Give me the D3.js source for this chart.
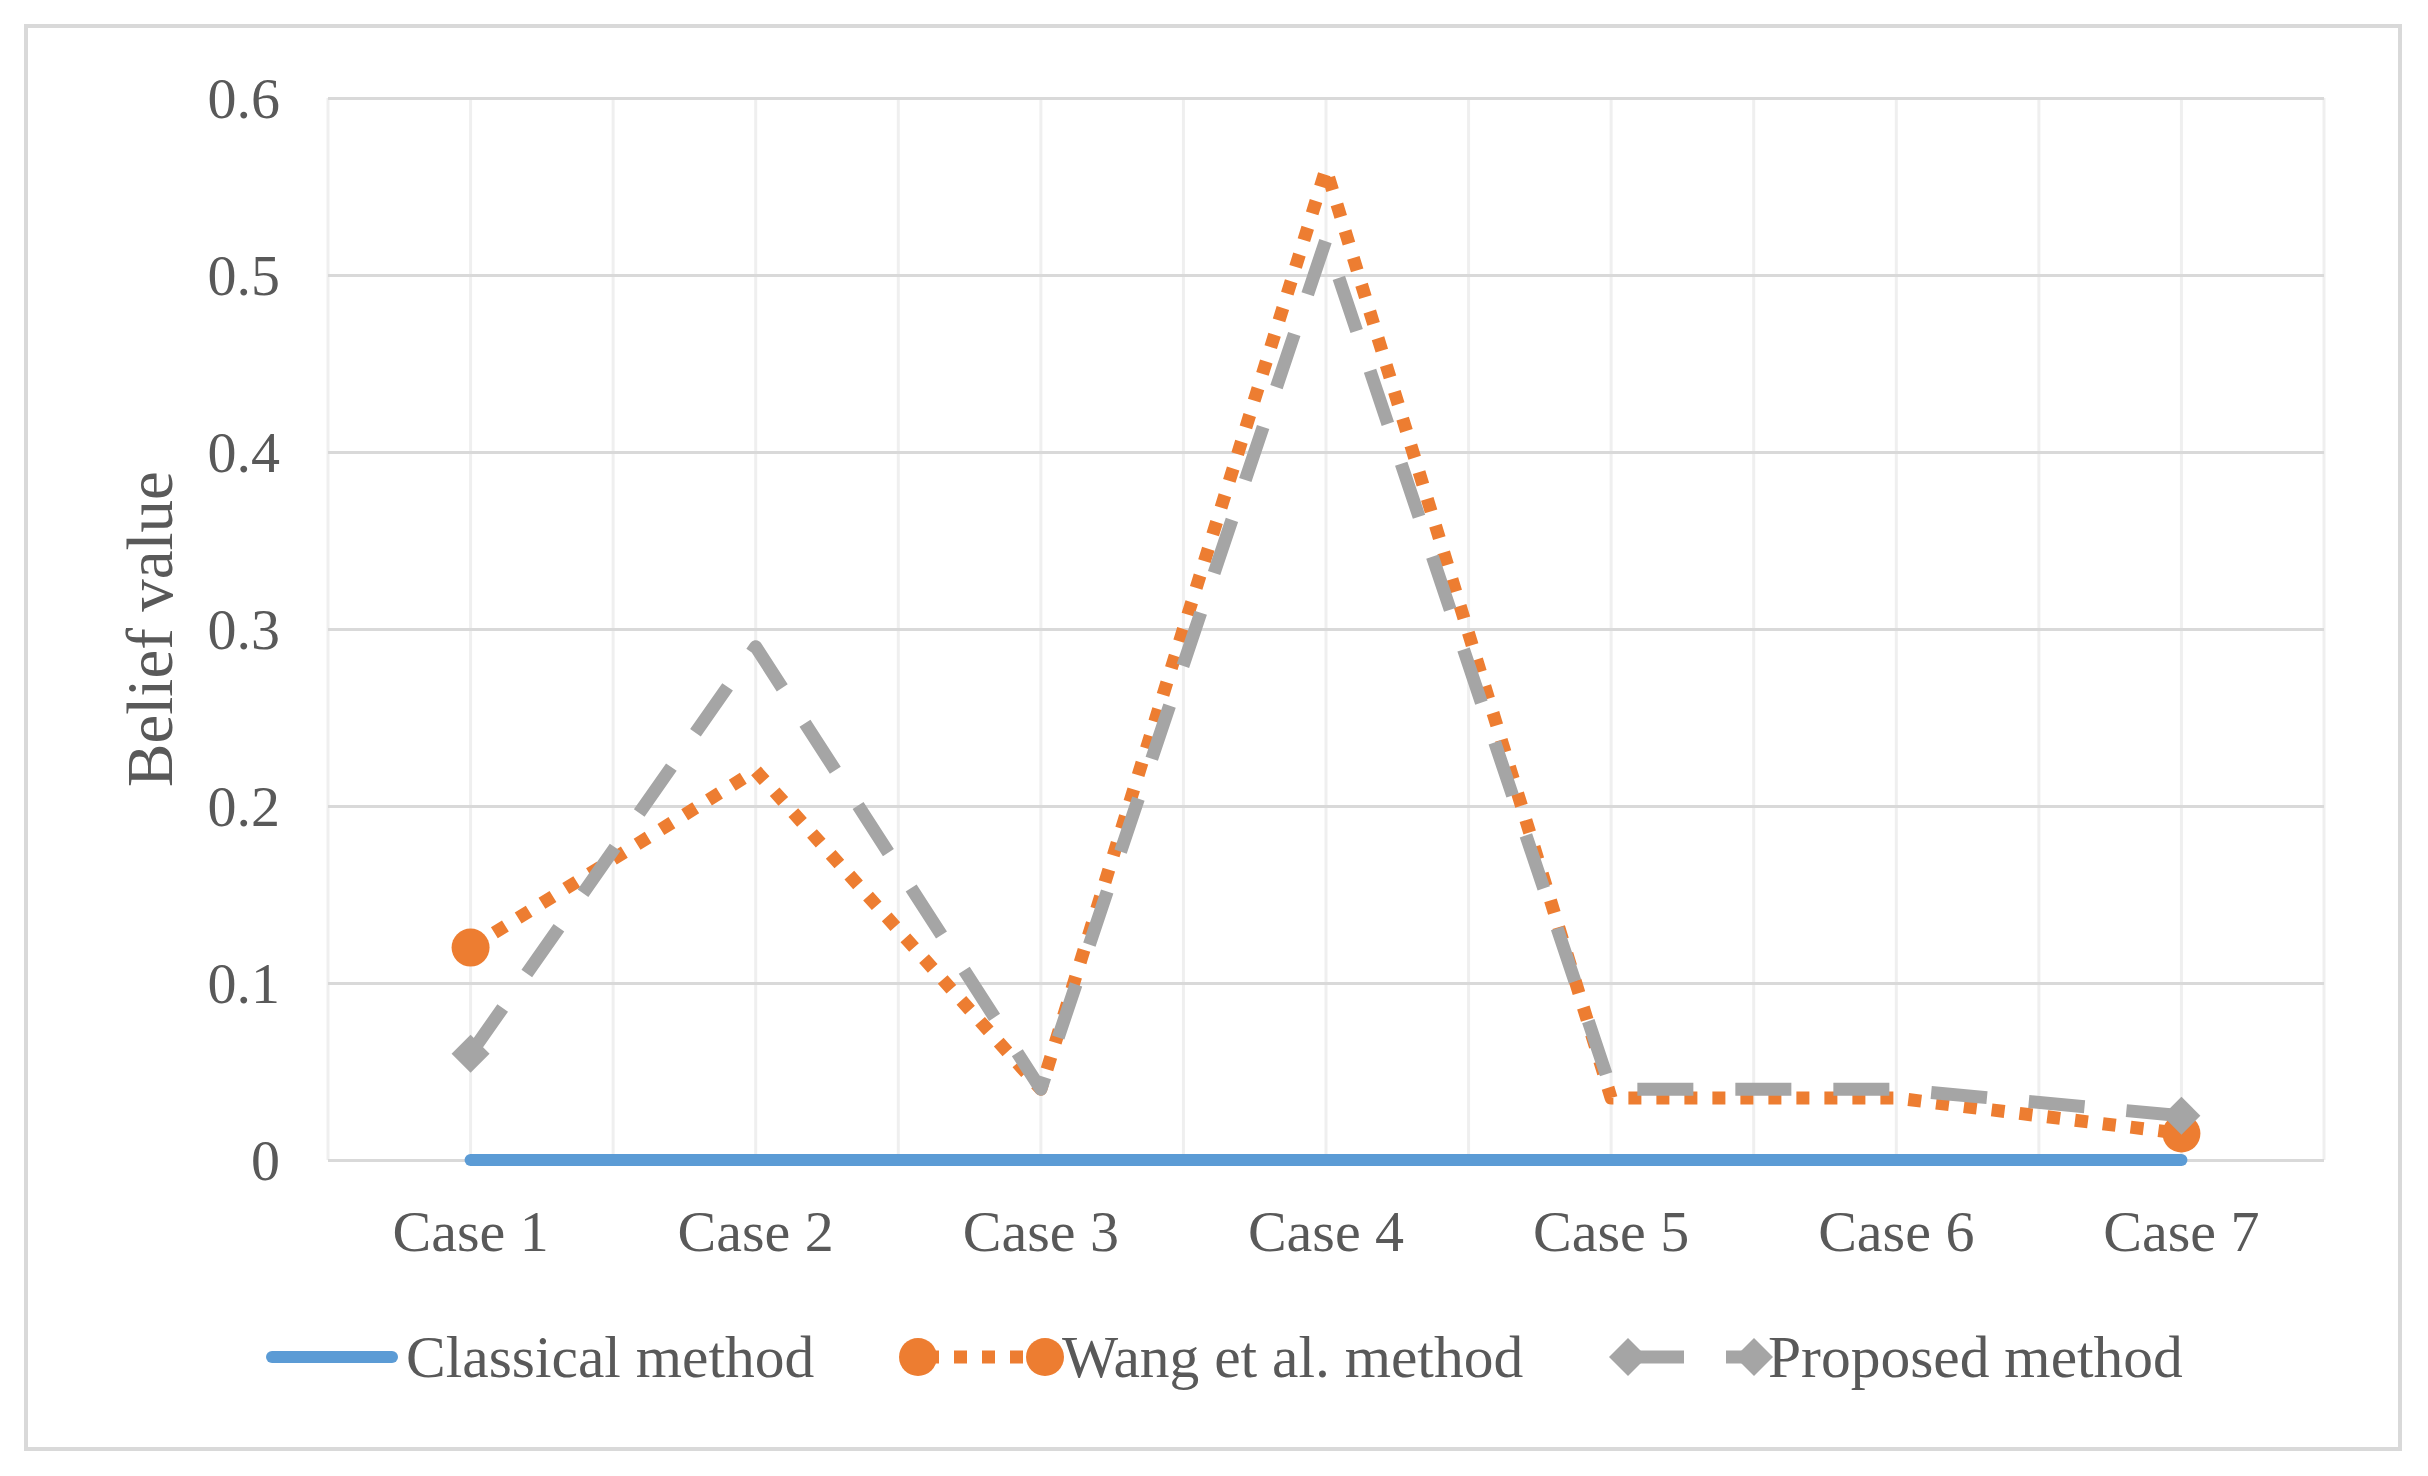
<!DOCTYPE html>
<html>
<head>
<meta charset="utf-8">
<script src="https://cdn.jsdelivr.net/npm/d3@7"></script>
<style>
  html, body { margin: 0; padding: 0; background: #ffffff; }
  svg { display: block; }
</style>
</head>
<body>
<svg id="chart" width="2428" height="1476"></svg>
<script>
const categories = ["Case 1", "Case 2", "Case 3", "Case 4", "Case 5", "Case 6", "Case 7"];
const classicalValues = [0, 0, 0, 0, 0, 0, 0];
const wangValues = [0.12, 0.22, 0.04, 0.56, 0.035, 0.035, 0.015];
const proposedValues = [0.06, 0.29, 0.04, 0.52, 0.04, 0.04, 0.025];
const yTickValues = [0, 0.1, 0.2, 0.3, 0.4, 0.5, 0.6];
const yTickLabels = ["0", "0.1", "0.2", "0.3", "0.4", "0.5", "0.6"];
const seriesNames = ["Classical method", "Wang et al. method", "Proposed method"];
const yAxisTitle = "Belief value";

const W = 2428, H = 1476;
const plot = { left: 328, right: 2324, top: 98, bottom: 1160 };
const FONT = "'Liberation Serif', 'Times New Roman', serif";
const TEXT = "#595959";
const BLUE = "#5B9BD5", ORANGE = "#ED7D31", GRAY = "#A5A5A5";

const svg = d3.select("#chart");
svg.append("rect").attr("x", 0).attr("y", 0).attr("width", W).attr("height", H).attr("fill", "#fff");
// outer frame
svg.append("rect").attr("x", 26).attr("y", 26).attr("width", 2374).attr("height", 1423)
  .attr("fill", "#fff").attr("stroke", "#d9d9d9").attr("stroke-width", 4);

const x = d3.scaleBand().domain(categories).range([plot.left, plot.right]).padding(0);
const xc = d => x(d) + x.bandwidth() / 2;
const y = d3.scaleLinear().domain([0, 0.6]).range([plot.bottom, plot.top]);

// vertical gridlines at band edges and centres
const vPos = [];
categories.forEach(c => { vPos.push(x(c)); vPos.push(xc(c)); });
vPos.push(plot.right);
svg.append("g").selectAll("line").data(vPos).join("line")
  .attr("x1", d => d).attr("x2", d => d)
  .attr("y1", plot.top).attr("y2", plot.bottom)
  .attr("stroke", "#efefef").attr("stroke-width", 3);

// horizontal gridlines via axis
const yAxis = d3.axisLeft(y).tickValues(yTickValues)
  .tickSize(-(plot.right - plot.left)).tickPadding(48)
  .tickFormat((d, i) => yTickLabels[i]);
const gy = svg.append("g").attr("transform", `translate(${plot.left},0)`).call(yAxis);
gy.select(".domain").remove();
gy.selectAll(".tick line").attr("stroke", "#d9d9d9").attr("stroke-width", 3);
gy.selectAll(".tick text").attr("fill", TEXT).attr("font-family", FONT)
  .attr("font-size", 58).attr("dy", "0.33em");

// x axis labels
const xAxis = d3.axisBottom(x).tickSize(0).tickPadding(0);
const gx = svg.append("g").attr("transform", `translate(0,${plot.bottom})`).call(xAxis);
gx.select(".domain").remove();
gx.selectAll(".tick text").attr("fill", TEXT).attr("font-family", FONT)
  .attr("font-size", 58).attr("dy", null).attr("y", 91);

// y axis title
svg.append("text")
  .attr("transform", `translate(150,${(plot.top + plot.bottom) / 2}) rotate(-90)`)
  .attr("text-anchor", "middle").attr("dominant-baseline", "central")
  .attr("fill", TEXT).attr("font-family", FONT).attr("font-size", 65)
  .text(yAxisTitle);

const line = d3.line().x((d, i) => xc(categories[i])).y(d => y(d));

// Classical
svg.append("path").datum(classicalValues).attr("d", line)
  .attr("fill", "none").attr("stroke", BLUE).attr("stroke-width", 12)
  .attr("stroke-linecap", "round").attr("stroke-linejoin", "round");

// Wang
svg.append("path").datum(wangValues).attr("d", line)
  .attr("fill", "none").attr("stroke", ORANGE).attr("stroke-width", 13)
  .attr("stroke-dasharray", "13,15").attr("stroke-linecap", "butt").attr("stroke-linejoin", "round");

// Proposed
svg.append("path").datum(proposedValues).attr("d", line)
  .attr("fill", "none").attr("stroke", GRAY).attr("stroke-width", 13)
  .attr("stroke-dasharray", "56,42").attr("stroke-linecap", "butt").attr("stroke-linejoin", "round");

// markers on first and last points
const ends = [0, categories.length - 1];
svg.append("g").selectAll("circle").data(ends).join("circle")
  .attr("cx", i => xc(categories[i])).attr("cy", i => y(wangValues[i]))
  .attr("r", 19).attr("fill", ORANGE);
const diamond = d3.symbol().type(d3.symbolSquare).size(720);
svg.append("g").selectAll("path").data(ends).join("path")
  .attr("d", diamond)
  .attr("transform", i => `translate(${xc(categories[i])},${y(proposedValues[i])}) rotate(45)`)
  .attr("fill", GRAY);

// legend
const ly = 1357;
const LFS = 59.5;
const lg = svg.append("g");
// Classical
lg.append("line").attr("x1", 272).attr("x2", 392).attr("y1", ly).attr("y2", ly)
  .attr("stroke", BLUE).attr("stroke-width", 12).attr("stroke-linecap", "round");
lg.append("text").attr("x", 406).attr("y", ly).attr("dominant-baseline", "central")
  .attr("fill", TEXT).attr("font-family", FONT).attr("font-size", LFS).text(seriesNames[0]);
// Wang
lg.append("line").attr("x1", 918).attr("x2", 1045).attr("y1", ly).attr("y2", ly)
  .attr("stroke", ORANGE).attr("stroke-width", 13).attr("stroke-dasharray", "13,15").attr("stroke-dashoffset", -8);
lg.selectAll("circle.lw").data([918, 1045]).join("circle").attr("class", "lw")
  .attr("cx", d => d).attr("cy", ly).attr("r", 19).attr("fill", ORANGE);
lg.append("text").attr("x", 1062).attr("y", ly).attr("dominant-baseline", "central")
  .attr("fill", TEXT).attr("font-family", FONT).attr("font-size", LFS).text(seriesNames[1]);
// Proposed
lg.append("line").attr("x1", 1628).attr("x2", 1754).attr("y1", ly).attr("y2", ly)
  .attr("stroke", GRAY).attr("stroke-width", 13).attr("stroke-dasharray", "56,42");
lg.selectAll("path.ld").data([1628, 1754]).join("path").attr("class", "ld")
  .attr("d", diamond).attr("transform", d => `translate(${d},${ly}) rotate(45)`).attr("fill", GRAY);
lg.append("text").attr("x", 1768).attr("y", ly).attr("dominant-baseline", "central")
  .attr("fill", TEXT).attr("font-family", FONT).attr("font-size", LFS).text(seriesNames[2]);
</script>
</body>
</html>
